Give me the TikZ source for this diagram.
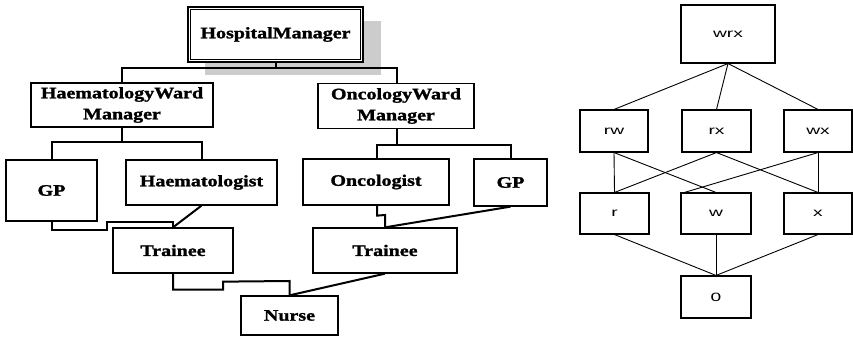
\documentclass[tikz,border=0pt]{standalone}
\usepackage{fontspec}
\newfontfamily\leftfont[FakeStretch=1.25,FakeBold=1.5]{Liberation Serif}
\newfontfamily\rightfont[FakeStretch=1.6]{Liberation Sans}
\begin{document}
\begin{tikzpicture}[x=1pt,y=-1pt,
  lbox/.style={draw, line width=1.3pt, fill=white, inner sep=0pt, align=center,
    font=\leftfont\bfseries\fontsize{16}{21}\selectfont},
  rbox/.style={draw, line width=1.1pt, fill=white, inner sep=0pt,
    font=\rightfont\fontsize{12}{14}\selectfont},
  conn/.style={line width=2pt},
  ledge/.style={line width=0.9pt}]
\useasboundingbox (0,0) rectangle (853,339);
% ---------- left hierarchy ----------
\fill[gray!40] (205,21) rectangle (381,75);
\node[lbox, line width=2.4pt, minimum width=175pt, minimum height=55pt] (hm) at (275.5,34.5) {HospitalManager};
\draw[line width=0.8pt] ([xshift=3.5pt,yshift=-3.5pt]hm.north west) rectangle ([xshift=-3.5pt,yshift=3.5pt]hm.south east);
\node[lbox, minimum width=182pt, minimum height=44pt] (hwm) at (122,105) {HaematologyWard\\Manager};
\node[lbox, minimum width=156pt, minimum height=45pt] (owm) at (396,106) {OncologyWard\\Manager};
\node[lbox, minimum width=91pt, minimum height=61pt] (gpa) at (51.5,190.5) {GP};
\node[lbox, minimum width=151pt, minimum height=45pt] (haem) at (201.5,182.5) {Haematologist};
\node[lbox, minimum width=146pt, minimum height=46pt] (onc) at (376,182) {Oncologist};
\node[lbox, minimum width=73pt, minimum height=47pt] (gpb) at (510.5,182.5) {GP};
\node[lbox, minimum width=120pt, minimum height=45pt] (tra) at (173,250.5) {Trainee};
\node[lbox, minimum width=144pt, minimum height=45pt] (trb) at (385,250.5) {Trainee};
\node[lbox, minimum width=97pt, minimum height=39pt] (nurse) at (289.5,315.5) {Nurse};
\coordinate (b1) at (0,68);
\coordinate (b2) at (0,142);
\coordinate (b3) at (0,145);
\draw[conn] (hm.south) -- (hm.south |- b1);
\draw[conn] (hwm.north) -- (hwm.north |- b1) -- ([xshift=1pt]owm.north |- b1) -- ([xshift=1pt]owm.north);
\draw[conn] (hwm.south) -- (hwm.south |- b2);
\draw[conn] (gpa.north) -- (gpa.north |- b2) -- (haem.north |- b2) -- (haem.north);
\draw[conn] ([xshift=1pt]owm.south) -- ([xshift=1pt]owm.south |- b3);
\draw[conn] ([xshift=1pt]onc.north) -- ([xshift=1pt]onc.north |- b3) -- (gpb.north |- b3) -- (gpb.north);
\draw[conn] (gpa.south) -- ++(0,8) -- ++(55,0) -- ++(0,-8) -- (tra.north |- gpa.south) -- (tra.north);
\draw[conn] (haem.south) -- (tra.north);
\draw[conn] (tra.south) -- ++(0,16) -- ++(50,0) -- ++(0,-8) -- (nurse.north |- 0,281) -- (nurse.north);
\draw[conn] (trb.south) -- (nurse.north);
\draw[conn] ([xshift=1pt]onc.south) -- ++(0,10) -- (trb.north |- 0,215) -- (trb.north);
\draw[conn] (gpb.south) -- (trb.north);
% ---------- right lattice ----------
\node[rbox, minimum width=94pt, minimum height=58pt] (wrx) at (728,34) {wrx};
\node[rbox, minimum width=68pt, minimum height=42pt] (rw) at (614,131) {rw};
\node[rbox, minimum width=69pt, minimum height=42pt] (rx) at (716.5,131) {rx};
\node[rbox, minimum width=68pt, minimum height=42pt] (wx) at (818,131) {wx};
\node[rbox, minimum width=69pt, minimum height=41pt] (r) at (614.5,213.5) {r};
\node[rbox, minimum width=70pt, minimum height=41pt] (w) at (716,213.5) {w};
\node[rbox, minimum width=68pt, minimum height=41pt] (xx) at (818,213.5) {x};
\node[rbox, minimum width=70pt, minimum height=42pt] (z) at (716,297) {0};
\draw[ledge] (wrx.south) -- (rw.north);
\draw[ledge] (wrx.south) -- (rx.north);
\draw[ledge] (wrx.south) -- (wx.north);
\draw[ledge] (rw.south) -- (r.north);
\draw[ledge] (rw.south) -- (w.north);
\draw[ledge] (rx.south) -- (r.north);
\draw[ledge] (rx.south) -- (xx.north);
\draw[ledge] (wx.south) -- ([xshift=4pt]w.north west);
\draw[ledge] (wx.south) -- (xx.north);
\draw[ledge] (r.south) -- (z.north);
\draw[ledge] (w.south) -- (z.north);
\draw[ledge] (xx.south) -- (z.north);
\end{tikzpicture}
\end{document}
